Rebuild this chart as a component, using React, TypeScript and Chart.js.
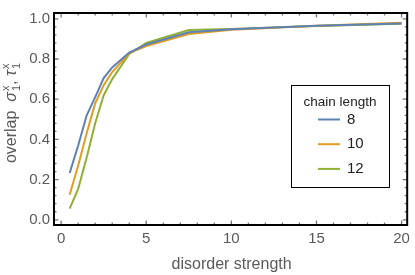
import React, { useEffect, useRef } from "react";
import { Chart, registerables } from "chart.js";

Chart.register(...registerables);

const xValues = [0.5, 1, 1.5, 2, 2.5, 3, 4, 5, 7.5, 10, 15, 20];
const chain8 = [0.233, 0.37, 0.52, 0.61, 0.705, 0.758, 0.832, 0.872, 0.933, 0.948, 0.965, 0.977];
const chain10 = [0.125, 0.27, 0.43, 0.58, 0.67, 0.735, 0.83, 0.865, 0.924, 0.946, 0.966, 0.98];
const chain12 = [0.056, 0.154, 0.31, 0.48, 0.62, 0.7, 0.825, 0.88, 0.944, 0.95, 0.964, 0.976];
const seriesLabels = ["8", "10", "12"];
const seriesColors = ["#5E81B5", "#E19C24", "#8FB032"];
const xTicks = [0, 5, 10, 15, 20];
const yTicks = [0, 0.2, 0.4, 0.6, 0.8, 1.0];
const xMinorStep = 1;
const yMinorStep = 0.04;
const xTitle = "disorder strength";
const legendTitle = "chain length";

const TEXT = "#5a5a5a";
const FONT = "Liberation Sans, Arial, sans-serif";

const framePlugin = {
  id: "frameTicks",
  afterDatasetsDraw(chart: any) {
    const { ctx, chartArea: a, scales } = chart;
    const xs = scales.x;
    const ys = scales.y;
    ctx.save();
    ctx.strokeStyle = "#777";
    ctx.lineWidth = 1.3;
    const minorX: number[] = [];
    for (let v = 0; v <= 20.001; v += xMinorStep) minorX.push(v);
    const minorY: number[] = [];
    for (let v = 0; v <= 1.0001; v += yMinorStep) minorY.push(+v.toFixed(3));
    ctx.beginPath();
    minorX.forEach((v) => {
      const px = xs.getPixelForValue(v);
      const major = xTicks.some((t) => Math.abs(t - v) < 1e-6);
      const len = major ? 4.5 : 2.5;
      ctx.moveTo(px, a.bottom);
      ctx.lineTo(px, a.bottom - len);
      ctx.moveTo(px, a.top);
      ctx.lineTo(px, a.top + len);
    });
    minorY.forEach((v) => {
      const py = ys.getPixelForValue(v);
      const major = yTicks.some((t) => Math.abs(t - v) < 1e-6);
      const len = major ? 4.5 : 2.5;
      ctx.moveTo(a.left, py);
      ctx.lineTo(a.left + len, py);
      ctx.moveTo(a.right, py);
      ctx.lineTo(a.right - len, py);
    });
    ctx.stroke();
    ctx.strokeStyle = "#000";
    ctx.lineWidth = 2;
    ctx.strokeRect(a.left, a.top, a.right - a.left, a.bottom - a.top);
    ctx.restore();
  },
  afterDraw(chart: any) {
    const { ctx, chartArea: a } = chart;
    ctx.save();
    // x title
    ctx.fillStyle = TEXT;
    ctx.font = `16px ${FONT}`;
    ctx.textAlign = "center";
    ctx.textBaseline = "middle";
    ctx.fillText(xTitle, (a.left + a.right) / 2 + 1, 265);

    // y title with super/subscripts
    ctx.save();
    ctx.translate(16, 113);
    ctx.rotate(-Math.PI / 2);
    ctx.textAlign = "left";
    ctx.textBaseline = "alphabetic";
    const normal = `16px ${FONT}`;
    const italic = `italic 16px ${FONT}`;
    const small = `11px ${FONT}`;
    const parts: { t: string; f: string; dy: number; adv: boolean }[] = [
      { t: "overlap  ", f: normal, dy: 0, adv: true },
      { t: "σ", f: italic, dy: 0, adv: true },
      { t: "x", f: small, dy: -7, adv: false },
      { t: "1", f: small, dy: 4, adv: true },
      { t: ", ", f: normal, dy: 0, adv: true },
      { t: "τ", f: italic, dy: 0, adv: true },
      { t: "x", f: small, dy: -7, adv: false },
      { t: "1", f: small, dy: 4, adv: true },
    ];
    let total = 0;
    parts.forEach((p) => {
      ctx.font = p.f;
      if (p.adv) total += ctx.measureText(p.t).width + (p.f === small ? 1 : 0);
    });
    let x = -total / 2;
    parts.forEach((p) => {
      ctx.font = p.f;
      ctx.fillText(p.t, x + (p.f === small ? 1 : 0), p.dy);
      if (p.adv) x += ctx.measureText(p.t).width + (p.f === small ? 1 : 0);
    });
    ctx.restore();

    // legend
    const bx = 291, by = 85, bw = 98, bh = 102;
    ctx.fillStyle = "#fff";
    ctx.fillRect(bx, by, bw, bh);
    ctx.strokeStyle = "#000";
    ctx.lineWidth = 1;
    ctx.strokeRect(bx + 0.5, by + 0.5, bw, bh);
    ctx.fillStyle = "#222";
    ctx.font = `13.5px ${FONT}`;
    ctx.textAlign = "center";
    ctx.textBaseline = "middle";
    ctx.fillText(legendTitle, bx + bw / 2, 102);
    chart.data.datasets.forEach((ds: any, i: number) => {
      const y = 119.5 + i * 24.7;
      ctx.strokeStyle = ds.borderColor;
      ctx.lineWidth = 2;
      ctx.beginPath();
      ctx.moveTo(318, y);
      ctx.lineTo(340, y);
      ctx.stroke();
      ctx.fillStyle = "#222";
      ctx.textAlign = "left";
      ctx.font = `15px ${FONT}`;
      ctx.fillText(ds.label, 347, y);
    });
    ctx.restore();
  },
};

export default function App() {
  const ref = useRef<HTMLCanvasElement>(null);
  useEffect(() => {
    if (!ref.current) return;
    const series = [chain8, chain10, chain12];
    const chart = new Chart(ref.current, {
      type: "line",
      data: {
        datasets: series.map((s, i) => ({
          label: seriesLabels[i],
          data: xValues.map((x, j) => ({ x, y: s[j] })),
          borderColor: seriesColors[i],
          backgroundColor: seriesColors[i],
          borderWidth: 2,
          pointRadius: 0,
          tension: 0,
          fill: false,
        })),
      },
      options: {
        animation: false,
        responsive: true,
        maintainAspectRatio: false,
        layout: { padding: { top: 4, right: 5, left: 0, bottom: 0 } },
        plugins: { legend: { display: false }, tooltip: { enabled: false } },
        scales: {
          x: {
            type: "linear",
            min: -0.42,
            max: 20.33,
            grid: { display: false, drawTicks: false },
            border: { display: false },
            afterFit: (s: any) => { s.height = 50; },
            afterBuildTicks: (s: any) => { s.ticks = xTicks.map((v) => ({ value: v })); },
            ticks: {
              color: TEXT,
              font: { family: FONT, size: 15 },
              padding: 5,
              maxRotation: 0,
              callback: (v: any) => String(v),
            },
          },
          y: {
            type: "linear",
            min: -0.026,
            max: 1.029,
            grid: { display: false, drawTicks: false },
            border: { display: false },
            afterFit: (s: any) => { s.width = 54; },
            afterBuildTicks: (s: any) => { s.ticks = yTicks.map((v) => ({ value: v })); },
            ticks: {
              color: TEXT,
              font: { family: FONT, size: 15 },
              padding: 4,
              callback: (v: any) => Number(v).toFixed(1),
            },
          },
        },
      },
      plugins: [framePlugin],
    });
    return () => chart.destroy();
  }, []);
  return (
    <div style={{ position: "fixed", left: 0, top: 0, width: 415, height: 275, background: "#fff" }}>
      <canvas ref={ref} />
    </div>
  );
}
